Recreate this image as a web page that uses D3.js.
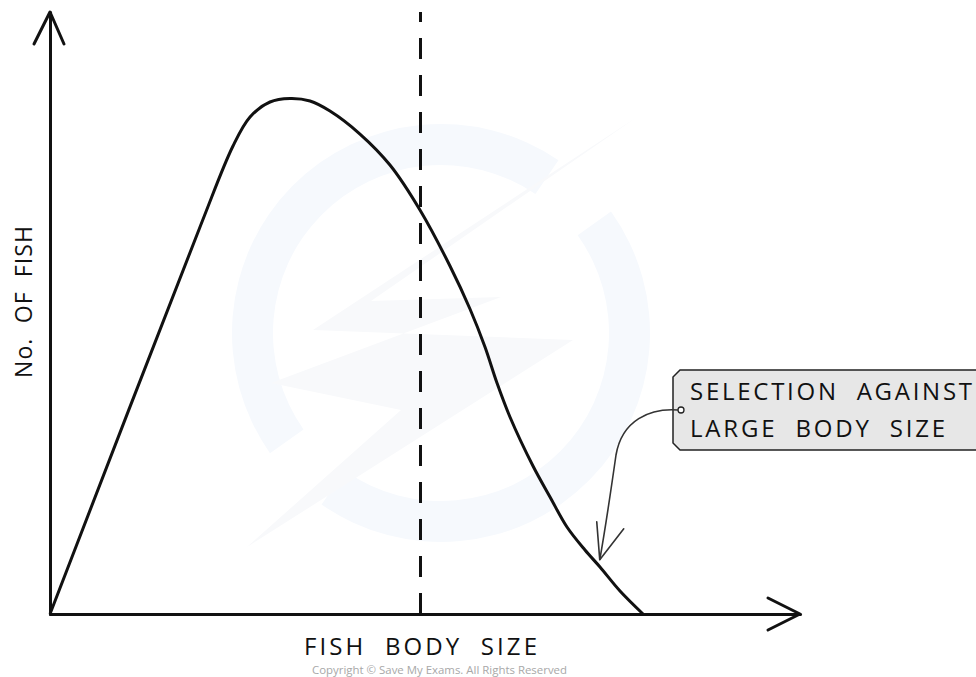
<!DOCTYPE html>
<html>
<head>
<meta charset="utf-8">
<script src="https://cdn.jsdelivr.net/npm/d3@7"></script>
<style>
  body { margin: 0; background: #fff; }
  svg { display: block; }
  .lbl { font-family: "Open Sans", "DejaVu Sans", sans-serif; fill: #111; }
</style>
</head>
<body>
<div class="chart"></div>
<script>
var svgWidth = 976;
var svgHeight = 677;

// curve of fish numbers against body size (arbitrary units 0-100)
var bodySize = [0, 20, 24.4, 26.67, 29.33, 32, 34.67, 37.33, 41.33, 45.33, 49.33, 53.33, 56, 58, 59.6, 61.33, 64.4, 66.67, 68.93, 71.33, 73.33, 76, 79.07];
var fishCount = [0, 64.29, 77.74, 82.56, 85.05, 85.63, 85.22, 83.55, 79.73, 74.58, 67.11, 57.81, 50.66, 44.35, 38.37, 32.72, 24.58, 19.44, 14.45, 10.63, 7.81, 3.82, 0];
var meanSize = 49.4;

var xLabel = "FISH  BODY  SIZE";
var yLabel = "No.  OF  FISH";
var calloutLines = ["SELECTION  AGAINST", "LARGE  BODY  SIZE"];
var calloutTarget = [73.3, 9];
var copyright = "Copyright \u00a9 Save My Exams. All Rights Reserved";

var margin = { top: 12, right: 176, bottom: 63, left: 50 };
var width = svgWidth - margin.left - margin.right;
var height = svgHeight - margin.top - margin.bottom;

var svg = d3.select(".chart")
  .append("svg")
  .attr("width", svgWidth)
  .attr("height", svgHeight);

// very faint watermark
var wm = svg.append("g").attr("transform", "translate(441, 333)");
var ring = d3.arc().innerRadius(168).outerRadius(209);
[[0.95, 3.75], [4.1, 6.88]].forEach(function(a) {
  wm.append("path")
    .attr("d", ring({ startAngle: a[0], endAngle: a[1] }))
    .attr("fill", "#f6f9fd");
});
wm.append("path")
  .attr("d", "M196,-216 L-128,-3 L132,7 L-194,214 L-40,77 L-170,50 L60,-36 L-70,-32 Z")
  .attr("fill", "#f8f9fb");

var chartGroup = svg.append("g")
  .attr("transform", `translate(${margin.left}, ${margin.top})`);

var xScale = d3.scaleLinear().domain([0, 100]).range([0, width]);
var yScale = d3.scaleLinear().domain([0, 100]).range([height, 0]);

// axes with no ticks
var bottomAxis = d3.axisBottom(xScale).tickValues([]).tickSizeOuter(0);
var leftAxis = d3.axisLeft(yScale).tickValues([]).tickSizeOuter(0);

var gx = chartGroup.append("g")
  .attr("transform", `translate(0, ${height})`)
  .call(bottomAxis);
var gy = chartGroup.append("g").call(leftAxis);
[gx, gy].forEach(function(g) {
  g.select(".domain").attr("stroke", "#111").attr("stroke-width", 3).attr("stroke-linecap", "round");
});

// arrow heads
chartGroup.append("path")
  .attr("d", `M${xScale(0) - 16},${yScale(100) + 32} L${xScale(0)},${yScale(100)} L${xScale(0) + 14},${yScale(100) + 32}`)
  .attr("fill", "none").attr("stroke", "#111").attr("stroke-width", 3)
  .attr("stroke-linecap", "round").attr("stroke-linejoin", "round");
chartGroup.append("path")
  .attr("d", `M${xScale(100) - 32},${yScale(0) - 16} L${xScale(100)},${yScale(0)} L${xScale(100) - 32},${yScale(0) + 16}`)
  .attr("fill", "none").attr("stroke", "#111").attr("stroke-width", 3)
  .attr("stroke-linecap", "round").attr("stroke-linejoin", "round");

// dashed mean line
chartGroup.append("line")
  .attr("x1", xScale(meanSize)).attr("x2", xScale(meanSize))
  .attr("y1", yScale(0)).attr("y2", yScale(100))
  .attr("stroke", "#111").attr("stroke-width", 3)
  .attr("stroke-dasharray", "21,16");

// distribution curve
var pts = bodySize.map(function(d, i) { return [d, fishCount[i]]; });
var line = d3.line()
  .x(d => xScale(d[0]))
  .y(d => yScale(d[1]))
  .curve(d3.curveCatmullRom.alpha(0.5));
chartGroup.append("path")
  .datum(pts)
  .attr("d", line)
  .attr("fill", "none")
  .attr("stroke", "#111")
  .attr("stroke-width", 3)
  .attr("stroke-linejoin", "round");

// axis labels
chartGroup.append("text")
  .attr("class", "lbl")
  .attr("x", 254).attr("y", height + 41)
  .attr("textLength", 233).attr("lengthAdjust", "spacing")
  .style("font-size", "24px")
  .style("white-space", "pre")
  .text(xLabel);

chartGroup.append("text")
  .attr("class", "lbl")
  .attr("transform", `translate(${-18}, ${378 - margin.top}) rotate(-90)`)
  .attr("textLength", 152).attr("lengthAdjust", "spacing")
  .style("font-size", "23px")
  .style("white-space", "pre")
  .text(yLabel);

svg.append("text")
  .attr("x", 312).attr("y", 674)
  .attr("textLength", 255).attr("lengthAdjust", "spacingAndGlyphs")
  .style("font-family", "'Open Sans', sans-serif")
  .style("font-size", "11px")
  .style("fill", "#a8a8a8")
  .text(copyright);

// callout box
var box = svg.append("g");
box.append("path")
  .attr("d", "M680,370 L990,370 L990,450 L680,450 L673,443 L673,377 Z")
  .attr("fill", "#e7e7e7")
  .attr("stroke", "#222")
  .attr("stroke-width", 1.5);
box.append("circle")
  .attr("cx", 681).attr("cy", 410).attr("r", 3)
  .attr("fill", "#fff").attr("stroke", "#222").attr("stroke-width", 1.3);

var lens = [282, 255];
calloutLines.forEach(function(t, i) {
  box.append("text")
    .attr("class", "lbl")
    .attr("x", 690).attr("y", 400 + i * 37)
    .attr("textLength", lens[i]).attr("lengthAdjust", "spacing")
    .style("font-size", "24px")
    .style("white-space", "pre")
    .text(t);
});

// curved pointer from callout to the tail of the curve
var tx = margin.left + xScale(calloutTarget[0]);
var ty = margin.top + yScale(calloutTarget[1]);
svg.append("path")
  .attr("d", `M678,410 C650,408 622,420 616,455 C611,490 606,525 ${tx},${ty}`)
  .attr("fill", "none").attr("stroke", "#333").attr("stroke-width", 1.6);
svg.append("path")
  .attr("d", `M${tx - 3},${ty - 38} L${tx},${ty} L${tx + 24},${ty - 31}`)
  .attr("fill", "none").attr("stroke", "#333").attr("stroke-width", 1.6)
  .attr("stroke-linecap", "round").attr("stroke-linejoin", "round");
</script>
</body>
</html>
